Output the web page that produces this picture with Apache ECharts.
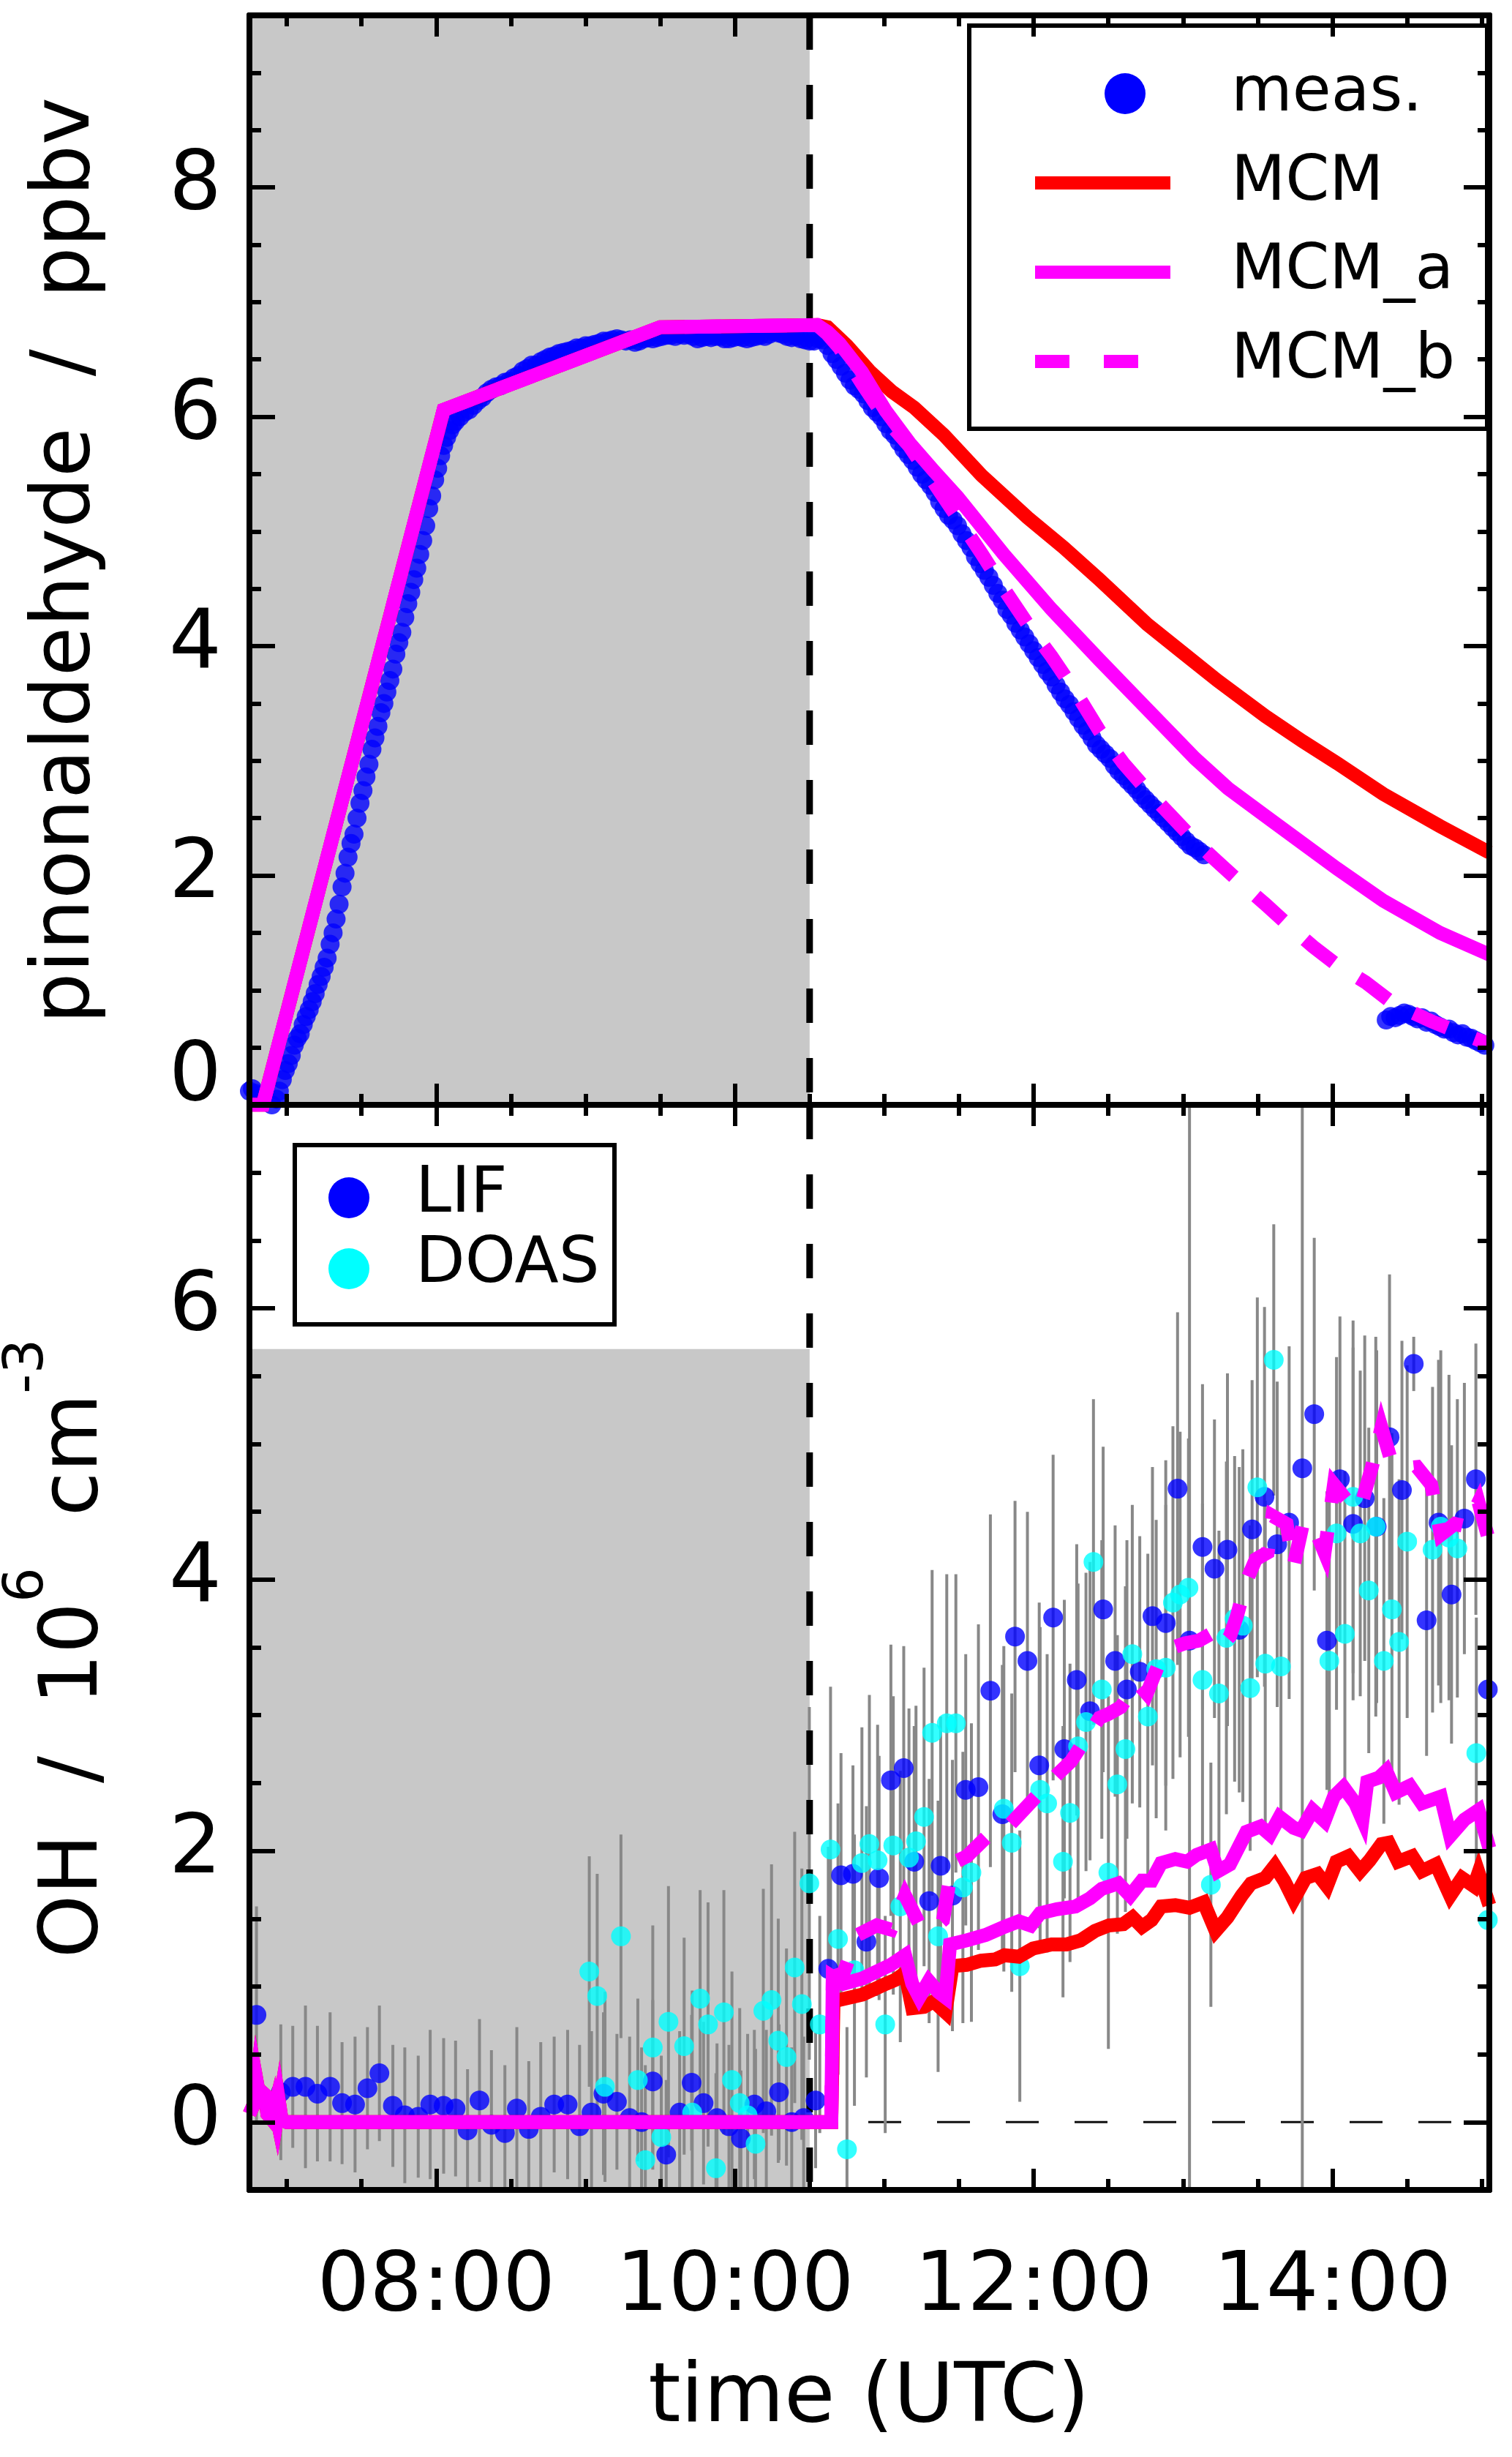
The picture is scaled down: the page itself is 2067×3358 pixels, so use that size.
<!DOCTYPE html>
<html><head><meta charset="utf-8">
<script src="https://cdn.jsdelivr.net/npm/echarts@6/dist/echarts.min.js"></script>
<style>html,body{margin:0;padding:0;background:#fff}#chart{width:2067px;height:3358px}</style>
</head><body><div id="chart"></div>
<script>
// ---------- axes / ticks ----------
const X_MIN = 6.75, X_MAX = 15.05;
const xTickValues = [8, 10, 12, 14];
const xTickLabels = ['08:00', '10:00', '12:00', '14:00'];
const xMinorTicks = [7, 7.5, 8.5, 9, 9.5, 10.5, 11, 11.5, 12.5, 13, 13.5, 14.5, 15];
const topYRange = [0, 9.5];
const topYTicks = [0, 2, 4, 6, 8];
const topYMinor = [0.5, 1, 1.5, 2.5, 3, 3.5, 4.5, 5, 5.5, 6.5, 7, 7.5, 8.5, 9];
const botYRange = [-0.5, 7.5];
const botYTicks = [0, 2, 4, 6];
const botYMinor = [0.5, 1, 1.5, 2.5, 3, 3.5, 4.5, 5, 5.5, 6.5, 7];
const darkPeriod = [6.75, 10.5];
const botShadeTop = 5.7;
const lightOn = 10.5;

// ---------- top panel: pinonaldehyde (ppbv) ----------
const measStart = [[6.75,0.12],[6.77,0.14],[6.79,0.10],[6.81,0.08],[6.83,0.03],[6.90,0.0],[6.93,0.05]];
const measRise = [[6.95,0.12],[6.97,0.22],[6.99,0.30],[7.01,0.36],[7.03,0.43],[7.05,0.52],[7.07,0.58],[7.09,0.62],[7.11,0.70],[7.13,0.77],[7.15,0.83],[7.17,0.90],[7.19,0.97],[7.21,1.05],[7.23,1.12],[7.25,1.20],[7.27,1.28],[7.29,1.40],[7.31,1.50],[7.33,1.62],[7.35,1.75],[7.37,1.90],[7.39,2.02],[7.41,2.16],[7.43,2.28],[7.45,2.36],[7.47,2.50],[7.49,2.63],[7.51,2.74],[7.53,2.86],[7.55,2.97],[7.57,3.10],[7.59,3.20],[7.61,3.30],[7.63,3.42],[7.65,3.50],[7.67,3.60],[7.69,3.70],[7.71,3.80],[7.73,3.93],[7.75,4.03],[7.77,4.12],[7.79,4.25],[7.81,4.37],[7.83,4.47],[7.85,4.58],[7.87,4.68],[7.89,4.80],[7.91,4.92],[7.93,5.05],[7.95,5.20],[7.97,5.31],[7.99,5.45],[8.01,5.55],[8.03,5.66],[8.05,5.75],[8.07,5.82],[8.09,5.88],[8.11,5.93],[8.13,5.96],[8.16,6.00],[8.19,6.04],[8.22,6.06],[8.25,6.10]];
const measPlateau = [[8.28,6.14],[8.31,6.17],[8.34,6.21],[8.37,6.24],[8.40,6.26],[8.43,6.27],[8.46,6.30],[8.49,6.31],[8.52,6.34],[8.55,6.36],[8.58,6.40],[8.61,6.42],[8.64,6.45],[8.67,6.45],[8.70,6.48],[8.73,6.50],[8.76,6.52],[8.79,6.53],[8.82,6.55],[8.85,6.56],[8.88,6.57],[8.91,6.58],[8.94,6.60],[8.97,6.60],[9.00,6.62],[9.03,6.62],[9.06,6.63],[9.09,6.64],[9.12,6.66],[9.15,6.66],[9.18,6.67],[9.21,6.68],[9.24,6.67],[9.27,6.66],[9.30,6.67],[9.33,6.65],[9.36,6.66],[9.39,6.68],[9.42,6.69],[9.45,6.68],[9.48,6.69],[9.51,6.70],[9.54,6.71],[9.57,6.71],[9.60,6.70],[9.63,6.72],[9.66,6.71],[9.69,6.72],[9.72,6.70],[9.75,6.68],[9.78,6.69],[9.81,6.70],[9.84,6.69],[9.87,6.70],[9.90,6.70],[9.93,6.68],[9.96,6.68],[9.99,6.69],[10.02,6.70],[10.05,6.69],[10.08,6.68],[10.11,6.69],[10.14,6.70],[10.17,6.71],[10.20,6.70],[10.23,6.72],[10.26,6.74],[10.29,6.73],[10.32,6.72],[10.35,6.70],[10.38,6.69],[10.41,6.70],[10.44,6.68],[10.47,6.67],[10.50,6.66],[10.53,6.66],[10.56,6.68],[10.59,6.67],[10.62,6.62]];
const measDecay = [[10.65,6.55],[10.68,6.50],[10.71,6.44],[10.74,6.38],[10.77,6.32],[10.80,6.27],[10.83,6.24],[10.86,6.20],[10.89,6.14],[10.92,6.08],[10.95,6.04],[10.98,6.00],[11.01,5.94],[11.04,5.88],[11.07,5.84],[11.10,5.78],[11.13,5.72],[11.16,5.67],[11.19,5.62],[11.22,5.56],[11.25,5.50],[11.28,5.45],[11.31,5.40],[11.34,5.34],[11.37,5.26],[11.40,5.20],[11.43,5.14],[11.46,5.10],[11.49,5.05],[11.52,4.98],[11.55,4.92],[11.58,4.86],[11.61,4.78],[11.64,4.72],[11.67,4.66],[11.70,4.60],[11.73,4.53],[11.76,4.46],[11.79,4.40],[11.82,4.32],[11.85,4.27],[11.88,4.20],[11.91,4.14],[11.94,4.08],[11.97,4.02],[12.00,3.96],[12.03,3.90],[12.06,3.84],[12.09,3.78],[12.12,3.73],[12.15,3.66],[12.18,3.60],[12.21,3.54],[12.24,3.49],[12.27,3.43],[12.30,3.37],[12.33,3.31],[12.36,3.26],[12.39,3.20],[12.42,3.14],[12.45,3.10],[12.48,3.06],[12.51,3.02],[12.54,2.96],[12.57,2.91],[12.60,2.87],[12.63,2.83],[12.66,2.79],[12.69,2.75],[12.72,2.70],[12.75,2.66],[12.78,2.62],[12.81,2.58],[12.84,2.54],[12.87,2.50],[12.90,2.46],[12.93,2.42],[12.96,2.38],[12.99,2.34],[13.02,2.30],[13.05,2.26],[13.08,2.24],[13.11,2.21],[13.14,2.18]];
const measLate = [[14.36,0.74],[14.39,0.77],[14.42,0.76],[14.45,0.78],[14.48,0.80],[14.51,0.79],[14.54,0.77],[14.57,0.75],[14.60,0.76],[14.63,0.72],[14.66,0.73],[14.69,0.70],[14.72,0.68],[14.75,0.66],[14.78,0.66],[14.81,0.63],[14.84,0.61],[14.87,0.62],[14.90,0.59],[14.93,0.58],[14.96,0.56],[14.99,0.54],[15.02,0.52]];

const modelFill = [[6.75,0.0],[6.84,0.0],[8.05,6.06],[9.5,6.78],[10.55,6.80]];
const mcmTopDecay = [[10.62,6.78],[10.75,6.62],[10.9,6.40],[11.05,6.22],[11.2,6.08],[11.4,5.84],[11.65,5.49],[11.96,5.12],[12.2,4.86],[12.44,4.58],[12.76,4.19],[13.0,3.94],[13.23,3.70],[13.55,3.39],[13.8,3.17],[14.03,2.98],[14.34,2.71],[14.72,2.43],[15.05,2.20]];
const mcmATopDecay = [[10.62,6.74],[10.70,6.64],[10.85,6.39],[11.01,6.05],[11.17,5.77],[11.33,5.53],[11.49,5.30],[11.80,4.80],[12.12,4.32],[12.44,3.88],[12.76,3.45],[13.08,3.02],[13.3,2.76],[13.55,2.52],[13.8,2.28],[14.03,2.06],[14.34,1.78],[14.72,1.50],[15.05,1.31]];
const mcmBTopDecay = [[10.62,6.72],[10.70,6.60],[10.85,6.29],[11.01,5.98],[11.17,5.74],[11.33,5.43],[11.49,5.12],[11.65,4.81],[11.80,4.50],[11.96,4.19],[12.12,3.91],[12.28,3.60],[12.44,3.26],[12.60,2.98],[12.76,2.74],[12.92,2.52],[13.08,2.30],[13.23,2.12],[13.39,1.93],[13.55,1.75],[13.71,1.56],[13.87,1.38],[14.03,1.22],[14.22,1.07],[14.41,0.88],[14.66,0.73],[14.85,0.63],[15.05,0.53]];

// ---------- bottom panel: OH (1e6 cm-3), [time, value, error] ----------
const lifPoints = [[6.797,0.79,0.8],[6.96,0.22,0.5],[7.04,0.26,0.45],[7.125,0.26,0.6],[7.205,0.21,0.5],[7.29,0.26,0.55],[7.37,0.14,0.45],[7.457,0.13,0.5],[7.54,0.25,0.45],[7.62,0.36,0.5],[7.71,0.12,0.45],[7.79,0.05,0.5],[7.88,0.04,0.45],[7.96,0.13,0.55],[8.05,0.12,0.5],[8.13,0.10,0.5],[8.21,-0.06,0.45],[8.29,0.16,0.6],[8.37,-0.02,0.55],[8.46,-0.08,0.5],[8.54,0.10,0.6],[8.62,-0.05,0.5],[8.70,0.04,0.55],[8.79,0.13,0.5],[8.88,0.13,0.55],[8.96,-0.03,0.6],[9.04,0.07,0.6],[9.12,0.21,0.6],[9.21,0.15,0.5],[9.295,0.03,0.6],[9.375,0.0,0.55],[9.45,0.30,0.6],[9.54,-0.24,0.55],[9.63,0.07,0.6],[9.71,0.29,0.5],[9.79,0.14,0.6],[9.88,0.03,0.55],[9.96,-0.03,0.6],[10.04,-0.12,0.5],[10.13,0.13,0.55],[10.21,0.08,0.6],[10.295,0.22,0.5],[10.38,0.0,0.55],[10.46,0.03,0.6],[10.54,0.16,0.5],
[10.625,1.13,0.9],[10.71,1.82,0.9],[10.79,1.83,0.8],[10.88,1.33,1.0],[10.965,1.80,0.9],[11.044,2.52,1.0],[11.13,2.61,0.9],[11.20,1.92,1.0],[11.30,1.63,0.9],[11.377,1.89,1.1],[11.456,1.67,1.0],[11.545,2.45,1.0],[11.63,2.47,1.2],[11.71,3.18,1.3],[11.79,2.27,1.1],[11.875,3.58,1.0],[11.958,3.40,1.1],[12.037,2.63,1.2],[12.13,3.72,1.2],[12.205,2.75,1.1],[12.288,3.26,1.0],[12.377,3.03,1.1],[12.465,3.78,1.2],[12.545,3.40,1.0],[12.624,3.19,1.1],[12.71,3.32,1.0],[12.795,3.73,1.1],[12.884,3.68,1.2],[12.963,4.67,1.3],[13.043,3.55,9],[13.13,4.24,1.2],[13.21,4.08,1.1],[13.297,4.22,1.3],[13.376,3.63,1.2],[13.462,4.37,1.1],[13.545,4.61,1.4],[13.63,4.26,1.2],[13.71,4.42,1.3],[13.798,4.82,9],[13.878,5.22,1.3],[13.963,3.55,1.1],[14.05,4.74,1.2],[14.138,4.41,1.3],[14.216,4.60,1.2],[14.296,4.39,1.3],[14.382,5.05,1.2],[14.465,4.66,1.1],[14.544,5.59,0.2],[14.63,3.70,1.0],[14.71,4.42,1.2],[14.797,3.89,1.1],[14.883,4.45,1.0],[14.96,4.74,1.0],[15.04,3.19,1.0]];
const doasPoints = [[9.025,1.11,0.85],[9.078,0.93,0.9],[9.13,0.26,0.7],[9.237,1.37,0.75],[9.35,0.31,0.6],[9.40,-0.28,0.7],[9.45,0.55,0.9],[9.507,-0.11,0.6],[9.555,0.74,1.0],[9.66,0.56,0.8],[9.714,0.07,0.9],[9.767,0.91,0.8],[9.82,0.72,0.9],[9.873,-0.34,0.7],[9.926,0.81,0.9],[9.98,0.31,0.8],[10.032,0.14,0.7],[10.085,0.05,0.6],[10.138,-0.16,0.7],[10.19,0.82,0.9],[10.245,0.90,1.0],[10.29,0.60,0.9],[10.345,0.48,0.8],[10.40,1.14,1.0],[10.448,0.87,1.0],[10.498,1.76,1.3],[10.568,0.72,0.8],[10.64,2.01,1.2],[10.69,1.35,1.0],[10.75,-0.20,0.9],[10.80,1.12,1.0],[10.85,1.91,1.0],[10.90,2.05,1.1],[10.955,1.93,1.0],[11.006,0.72,0.8],[11.06,2.04,1.1],[11.107,1.59,1.0],[11.165,1.95,1.1],[11.212,2.07,1.0],[11.266,2.25,1.1],[11.32,2.87,1.2],[11.36,1.37,1.0],[11.418,2.94,1.1],[11.479,2.94,1.1],[11.526,1.73,1.0],[11.583,1.84,1.1],[11.80,2.31,1.2],[11.853,2.06,1.1],[11.907,1.15,1.0],[12.043,2.45,1.2],[12.09,2.35,1.1],[12.196,1.92,1.0],[12.243,2.28,1.1],[12.297,2.77,1.2],[12.35,2.95,1.1],[12.40,4.13,1.2],[12.456,3.19,1.1],[12.50,1.84,1.3],[12.56,2.49,1.1],[12.614,2.75,1.2],[12.66,3.45,1.1],[12.764,2.99,1.2],[12.82,3.34,1.1],[12.884,3.35,1.2],[12.932,3.83,1.3],[12.98,3.89,1.2],[13.036,3.94,1.1],[13.13,3.26,1.3],[13.186,1.75,0.9],[13.24,3.16,1.2],[13.29,3.57,1.3],[13.345,3.71,1.2],[13.40,3.66,1.3],[13.449,3.20,1.2],[13.497,4.68,1.4],[13.55,3.38,1.2],[13.607,5.62,1.0],[13.655,3.36,1.1],[13.979,3.40,1.2],[14.027,4.34,1.3],[14.083,3.60,1.2],[14.138,4.61,1.3],[14.186,4.34,1.2],[14.243,3.92,1.2],[14.29,4.39,1.4],[14.344,3.40,1.2],[14.398,3.78,1.3],[14.446,3.54,1.2],[14.50,4.28,1.3],[14.67,4.22,1.2],[14.725,4.39,1.3],[14.78,4.31,1.2],[14.836,4.23,1.1],[14.963,2.72,1.0],[15.04,1.49,1.0]];

const ohModelDark = [[6.75,0.06],[6.775,0.12],[6.797,0.31],[6.815,0.20],[6.835,0.22],[6.855,0.20],[6.87,0.06],[6.90,0.02],[6.92,0.11],[6.935,0.03],[6.95,0.13],[6.965,0.02],[7.0,0.0],[10.645,0.0]];
const mcmBot = [[10.66,0.91],[10.695,0.90],[10.854,0.94],[11.012,1.02],[11.076,1.05],[11.139,1.10],[11.187,0.84],[11.266,0.85],[11.33,0.89],[11.409,0.81],[11.456,1.15],[11.552,1.16],[11.647,1.19],[11.742,1.20],[11.805,1.23],[11.9,1.22],[11.996,1.28],[12.12,1.31],[12.22,1.31],[12.313,1.34],[12.41,1.41],[12.503,1.45],[12.6,1.46],[12.662,1.51],[12.725,1.44],[12.789,1.49],[12.853,1.59],[12.948,1.60],[13.043,1.58],[13.138,1.62],[13.218,1.41],[13.297,1.51],[13.392,1.67],[13.455,1.76],[13.55,1.80],[13.614,1.89],[13.677,1.78],[13.74,1.64],[13.82,1.80],[13.9,1.83],[13.963,1.74],[14.026,1.92],[14.106,1.96],[14.185,1.85],[14.249,1.93],[14.328,2.05],[14.376,2.06],[14.439,1.92],[14.534,1.96],[14.598,1.85],[14.693,1.90],[14.788,1.67],[14.867,1.80],[14.947,1.74],[14.978,1.84],[15.05,1.60]];
const mcmABot = [[10.655,1.07],[10.727,1.02],[10.854,1.06],[10.949,1.11],[11.044,1.16],[11.139,1.23],[11.187,1.02],[11.234,0.92],[11.298,1.04],[11.361,0.96],[11.409,0.92],[11.44,1.31],[11.552,1.34],[11.679,1.38],[11.805,1.44],[11.9,1.48],[11.98,1.45],[12.043,1.54],[12.155,1.57],[12.28,1.59],[12.377,1.65],[12.456,1.72],[12.567,1.76],[12.646,1.67],[12.725,1.78],[12.79,1.78],[12.853,1.91],[12.948,1.94],[13.027,1.92],[13.09,1.97],[13.186,2.01],[13.233,1.85],[13.313,1.90],[13.424,2.14],[13.519,2.18],[13.582,2.12],[13.646,2.25],[13.74,2.17],[13.79,2.15],[13.868,2.30],[13.947,2.22],[14.01,2.40],[14.074,2.47],[14.153,2.35],[14.201,2.23],[14.233,2.51],[14.312,2.54],[14.36,2.59],[14.423,2.43],[14.518,2.48],[14.598,2.35],[14.725,2.40],[14.788,2.11],[14.883,2.23],[14.978,2.30],[15.05,2.02]];
const mcmBBot = [[10.655,1.07],[10.727,1.10],[10.822,1.38],[10.949,1.45],[11.044,1.42],[11.139,1.67],[11.234,1.46],[11.314,1.41],[11.393,1.49],[11.456,1.91],[11.552,1.96],[11.71,2.13],[11.837,2.19],[11.948,2.32],[12.059,2.45],[12.155,2.56],[12.25,2.66],[12.345,2.82],[12.44,2.98],[12.503,3.01],[12.583,3.06],[12.694,3.24],[12.757,3.16],[12.853,3.42],[12.932,3.50],[13.011,3.53],[13.106,3.55],[13.186,3.60],[13.249,3.50],[13.313,3.58],[13.36,3.73],[13.424,3.99],[13.487,4.15],[13.566,4.20],[13.598,4.47],[13.693,4.41],[13.74,4.10],[13.804,4.42],[13.868,4.41],[13.947,4.20],[14.01,4.70],[14.106,4.57],[14.185,4.52],[14.264,4.83],[14.328,5.12],[14.392,4.88],[14.487,4.82],[14.566,4.83],[14.661,4.70],[14.725,4.33],[14.82,4.41],[14.899,4.39],[14.978,4.57],[15.05,4.28]];

// ---------- styling ----------
const FONT = 'DejaVu Sans';
const BLUE = '#0000ff', CYAN = '#00ffff', RED = '#ff0000', MAG = '#ff00ff', SHADE = '#c8c8c8', BAR = '#888888';

function xAx(grid, pos, ticks, len, withLabels) {
  return {
    type: 'value', gridIndex: grid, position: pos, min: X_MIN, max: X_MAX, z: 10,
    axisLine: { show: true, onZero: false, lineStyle: { color: '#000', width: 8 } },
    axisTick: { show: true, inside: true, length: len, customValues: ticks, lineStyle: { color: '#000', width: 6 } },
    axisLabel: withLabels ? {
      show: true, customValues: xTickValues, margin: 78, color: '#000', fontSize: 113, fontFamily: FONT,
      formatter: v => xTickLabels[xTickValues.indexOf(v)]
    } : { show: false },
    splitLine: { show: false }, minorTick: { show: false }
  };
}
function yAx(grid, pos, range, ticks, len, labelTicks, shiftZero) {
  return {
    type: 'value', gridIndex: grid, position: pos, min: range[0], max: range[1], z: 10,
    axisLine: { show: true, onZero: false, lineStyle: { color: '#000', width: 8 } },
    axisTick: { show: true, inside: true, length: len, customValues: ticks, lineStyle: { color: '#000', width: 6 } },
    axisLabel: labelTicks ? {
      show: true, customValues: labelTicks, margin: 38, color: '#000', fontSize: 113, fontFamily: FONT,
      formatter: v => (shiftZero && v === 0) ? '{z|0}' : String(v),
      rich: { z: { fontSize: 113, fontFamily: FONT, color: '#000', padding: [0, 0, 72, 0] } }
    } : { show: false },
    splitLine: { show: false }, minorTick: { show: false }
  };
}

const xAxes = [
  xAx(0, 'bottom', xTickValues, 29, false), xAx(0, 'bottom', xMinorTicks, 15, false),
  xAx(0, 'top', xTickValues, 29, false), xAx(0, 'top', xMinorTicks, 15, false),
  xAx(1, 'bottom', xTickValues, 29, true), xAx(1, 'bottom', xMinorTicks, 15, false),
  xAx(1, 'top', xTickValues, 29, false), xAx(1, 'top', xMinorTicks, 15, false)
];
const yAxes = [
  yAx(0, 'left', topYRange, topYTicks, 35, topYTicks, true), yAx(0, 'left', topYRange, topYMinor, 16, null),
  yAx(0, 'right', topYRange, topYTicks, 35, null), yAx(0, 'right', topYRange, topYMinor, 16, null),
  yAx(1, 'left', botYRange, botYTicks, 35, botYTicks, false), yAx(1, 'left', botYRange, botYMinor, 16, null),
  yAx(1, 'right', botYRange, botYTicks, 35, null), yAx(1, 'right', botYRange, botYMinor, 16, null)
];

function rectSeries(ax, data) {
  return {
    type: 'custom', xAxisIndex: ax, yAxisIndex: ax, silent: true, clip: true, data: data,
    encode: { x: [0, 1], y: [2, 3] },
    renderItem: (p, api) => {
      const a = api.coord([api.value(0), api.value(3)]);
      const b = api.coord([api.value(1), api.value(2)]);
      return { type: 'rect', shape: { x: a[0], y: a[1], width: b[0] - a[0], height: b[1] - a[1] }, style: { fill: SHADE } };
    }
  };
}
function vDash(ax, range) {
  return {
    type: 'custom', xAxisIndex: ax, yAxisIndex: ax, silent: true, clip: false,
    data: [[lightOn, range[1], range[0]]], encode: { x: 0, y: [1, 2] },
    renderItem: (p, api) => {
      const a = api.coord([api.value(0), api.value(1)]);
      const b = api.coord([api.value(0), api.value(2)]);
      return { type: 'line', shape: { x1: a[0], y1: a[1], x2: b[0], y2: b[1] }, style: { stroke: '#000', lineWidth: 9, lineDash: [47, 48] } };
    }
  };
}
function errSeries(name, data) {
  return {
    type: 'custom', name: name + ' err', xAxisIndex: 4, yAxisIndex: 4, silent: true, clip: true,
    data: data, encode: { x: 0, y: 1 },
    renderItem: (p, api) => {
      const x = api.value(0), y = api.value(1), e = api.value(2);
      const a = api.coord([x, y - e]), b = api.coord([x, y + e]);
      return { type: 'line', shape: { x1: a[0], y1: a[1], x2: b[0], y2: b[1] }, style: { stroke: BAR, lineWidth: 4 } };
    }
  };
}
function lineSeries(name, ax, data, color, dashed) {
  return {
    type: 'line', name: name, xAxisIndex: ax, yAxisIndex: ax, data: data, symbol: 'none', showSymbol: false,
    clip: true, lineStyle: { color: color, width: 19, type: dashed ? [50, 40] : 'solid', cap: 'butt', join: 'miter' },
    itemStyle: { color: color }
  };
}

const series = [
  rectSeries(0, [[darkPeriod[0], darkPeriod[1], topYRange[0], topYRange[1]]]),
  rectSeries(4, [[darkPeriod[0], darkPeriod[1], botYRange[0], botShadeTop]]),
  {
    type: 'custom', xAxisIndex: 4, yAxisIndex: 4, silent: true, clip: true, data: [[X_MIN, X_MAX, 0]],
    encode: { x: [0, 1], y: 2 },
    renderItem: (p, api) => {
      const a = api.coord([api.value(0), api.value(2)]), b = api.coord([api.value(1), api.value(2)]);
      return { type: 'line', shape: { x1: a[0], y1: a[1], x2: b[0], y2: b[1] }, style: { stroke: '#111', lineWidth: 3, lineDash: [45, 49] } };
    }
  },
  { type: 'scatter', name: 'meas.', xAxisIndex: 0, yAxisIndex: 0, symbol: 'circle', symbolSize: 26,
    data: measStart.concat(measRise, measPlateau, measDecay, measLate), itemStyle: { color: BLUE } },
  lineSeries('MCM', 0, modelFill.concat(mcmTopDecay), RED, false),
  lineSeries('MCM_a', 0, modelFill.concat(mcmATopDecay), MAG, false),
  lineSeries('MCM_b', 0, modelFill.concat(mcmBTopDecay), MAG, true),
  errSeries('LIF', lifPoints),
  errSeries('DOAS', doasPoints),
  { type: 'scatter', name: 'LIF', xAxisIndex: 4, yAxisIndex: 4, symbol: 'circle', symbolSize: 27,
    data: lifPoints, encode: { x: 0, y: 1 }, itemStyle: { color: BLUE } },
  { type: 'scatter', name: 'DOAS', xAxisIndex: 4, yAxisIndex: 4, symbol: 'circle', symbolSize: 27,
    data: doasPoints, encode: { x: 0, y: 1 }, itemStyle: { color: CYAN } },
  lineSeries('MCM OH', 4, ohModelDark.concat(mcmBot), RED, false),
  lineSeries('MCM_a OH', 4, ohModelDark.concat(mcmABot), MAG, false),
  lineSeries('MCM_b OH', 4, [[10.645, 0.0]].concat(mcmBBot), MAG, true),
  vDash(0, topYRange),
  vDash(4, botYRange)
];

const txt = (text, x, y, size) => ({
  type: 'text', x: x, y: y, z: 200,
  style: { text: text, fontSize: size, fontFamily: FONT, fill: '#000',
    align: 'left', verticalAlign: 'middle', textAlign: 'left', textVerticalAlign: 'middle' }
});
const graphic = [
  // top legend
  { type: 'rect', z: 200, shape: { x: 1325, y: 35, width: 708, height: 551 }, style: { fill: 'none', stroke: '#000', lineWidth: 6 } },
  { type: 'circle', z: 200, shape: { cx: 1538, cy: 128, r: 28 }, style: { fill: BLUE } },
  { type: 'line', z: 200, shape: { x1: 1415, y1: 250, x2: 1600, y2: 250 }, style: { stroke: RED, lineWidth: 18 } },
  { type: 'line', z: 200, shape: { x1: 1415, y1: 372, x2: 1600, y2: 372 }, style: { stroke: MAG, lineWidth: 18 } },
  { type: 'line', z: 200, shape: { x1: 1415, y1: 494, x2: 1556, y2: 494 }, style: { stroke: MAG, lineWidth: 18, lineDash: [47, 47] } },
  txt('meas.', 1683, 129, 86), txt('MCM', 1683, 251, 86), txt('MCM_a', 1683, 372, 86), txt('MCM_b', 1683, 494, 86),
  // bottom legend
  { type: 'rect', z: 200, shape: { x: 403, y: 1565, width: 437, height: 245 }, style: { fill: 'none', stroke: '#000', lineWidth: 6 } },
  { type: 'circle', z: 200, shape: { cx: 477, cy: 1637, r: 28 }, style: { fill: BLUE } },
  { type: 'circle', z: 200, shape: { cx: 477, cy: 1734, r: 28 }, style: { fill: CYAN } },
  txt('LIF', 568, 1633, 88), txt('DOAS', 568, 1729, 88),
  // axis titles
  { type: 'text', z: 200, x: 1188, y: 3280,
    style: { text: 'time (UTC)', fontSize: 113, fontFamily: FONT, fill: '#000', align: 'center', verticalAlign: 'middle', textAlign: 'center', textVerticalAlign: 'middle' } },
  { type: 'text', z: 200, x: 92, y: 766, rotation: Math.PI / 2,
    style: { text: 'pinonaldehyde  /  ppbv', fontSize: 110, fontFamily: FONT, fill: '#000', align: 'center', verticalAlign: 'middle', textAlign: 'center', textVerticalAlign: 'middle' } },
  { type: 'text', z: 200, x: 80, y: 2253, rotation: Math.PI / 2,
    style: { text: '{n|OH  /  10}{s|6}{n|  cm}{s|-3}', fontFamily: FONT, fill: '#000', align: 'center', verticalAlign: 'middle', textAlign: 'center', textVerticalAlign: 'middle',
      rich: { n: { fontSize: 110, fontFamily: FONT, fill: '#000', color: '#000', lineHeight: 157, verticalAlign: 'bottom' },
              s: { fontSize: 75, fontFamily: FONT, fill: '#000', color: '#000', lineHeight: 75, verticalAlign: 'top' } } } }
];

const chart = echarts.init(document.getElementById('chart'), null, { renderer: 'canvas' });
chart.setOption({
  animation: false,
  backgroundColor: '#fff',
  grid: [
    { left: 341, width: 1695, top: 21, height: 1489 },
    { left: 341, width: 1695, top: 1510, height: 1483 }
  ],
  xAxis: xAxes,
  yAxis: yAxes,
  series: series,
  graphic: graphic
});
</script></body></html>
